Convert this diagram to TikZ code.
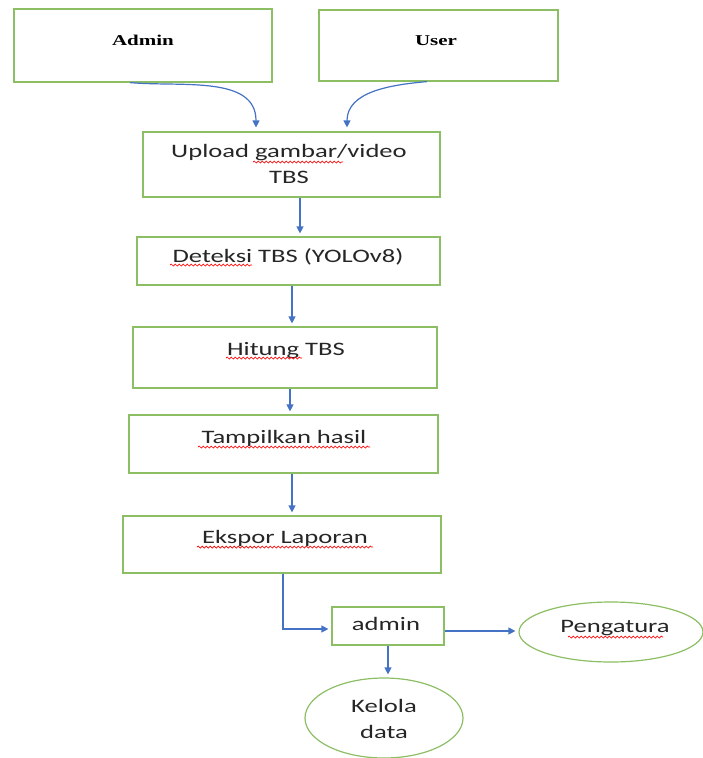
\documentclass[tikz,border=0pt]{standalone}
\usepackage{fontspec}
\setmainfont{Carlito}[FakeStretch=1.4]
\newfontfamily\headfont{Liberation Serif}[FakeStretch=1.4]
\usetikzlibrary{arrows.meta,shapes.geometric,decorations.pathmorphing}
\definecolor{boxgreen}{RGB}{140,190,100}
\definecolor{flowblue}{RGB}{68,114,196}
\begin{document}
\begin{tikzpicture}[x=1pt,y=-1pt,
  box/.style={draw=boxgreen,line width=1.2pt,inner sep=0pt},
  oval/.style={box,ellipse},
  txt/.style={anchor=base,inner sep=0pt,align=center,text=black!85,font=\fontsize{19}{26}\selectfont},
  head/.style={anchor=base,inner sep=0pt,font=\headfont\bfseries\fontsize{15}{18}\selectfont},
  arr/.style={draw=flowblue,line width=1.2pt,-{Triangle[length=7pt,width=7pt]},shorten >=3pt},
  spell/.style={red,line width=0.7pt,decorate,decoration={snake,amplitude=1pt,segment length=4pt}}]
\useasboundingbox (0,0) rectangle (703,758);
% boxes
\node[box,minimum width=258,minimum height=73] (admin) at (143,45.5) {};
\node[box,minimum width=239,minimum height=71] (user) at (438.5,45.5) {};
\node[box,minimum width=297,minimum height=65] (upload) at (291.5,164.5) {};
\node[box,minimum width=303,minimum height=48] (deteksi) at (288.5,261) {};
\node[box,minimum width=304,minimum height=61] (hitung) at (285,357.5) {};
\node[box,minimum width=309,minimum height=58] (tampil) at (283.5,444) {};
\node[box,minimum width=318,minimum height=57] (ekspor) at (282,544.5) {};
\node[box,minimum width=112,minimum height=38] (adm) at (388,626) {};
\node[oval,minimum width=184,minimum height=60] (atur) at (611,632) {};
\node[oval,minimum width=158,minimum height=80] (kelola) at (384,718) {};
% texts (two-line ones sit on their last line)
\node[head] (tadmin) at (143,45) {Admin};
\node[head] (tuser) at (436,45) {User};
\node[txt] (tupload) at (289,183) {Upload gambar/video\\TBS};
\node[txt] (tdeteksi) at (288,262) {Deteksi TBS (YOLOv8)};
\node[txt] (thitung) at (286,355) {Hitung TBS};
\node[txt] (ttampil) at (284,443) {Tampilkan hasil};
\node[txt] (tekspor) at (285,543) {Ekspor Laporan};
\node[txt] (tadm) at (386,630) {admin};
\node[txt] (tatur) at (615,632) {Pengatura};
\node[txt] (tkelola) at (384,738) {Kelola\\data};
% spell marks
\draw[spell] (253,162) -- (343,162);
\draw[spell] (170,265) -- (252,265);
\draw[spell] (226,358) -- (302,358);
\draw[spell] (198,447) -- (370,447);
\draw[spell] (197,547) -- (373,547);
\draw[spell] (568,637) -- (663,637);
% arrows
\draw[arr,shorten >=0pt] ([xshift=-13pt]admin.south) to[out=-5,in=90] ([xshift=-35.5pt,yshift=4pt]upload.north);
\draw[arr,shorten >=0pt] ([xshift=-11.5pt]user.south) to[out=185,in=90] ([xshift=55.5pt,yshift=4pt]upload.north);
\draw[arr] ([xshift=8.5pt]upload.south) -- ([xshift=8.5pt]upload.south |- deteksi.north);
\draw[arr] ([xshift=3.5pt]deteksi.south) -- ([xshift=3.5pt]deteksi.south |- hitung.north);
\draw[arr] ([xshift=5pt]hitung.south) -- ([xshift=5pt]hitung.south |- tampil.north);
\draw[arr] ([xshift=8.5pt]tampil.south) -- ([xshift=8.5pt]tampil.south |- ekspor.north);
\draw[arr] ([xshift=1pt]ekspor.south) |- ([yshift=-3pt]adm.west);
\draw[arr] ([yshift=-5pt]adm.east) -- ([yshift=-5pt]adm.east -| atur.west);
\draw[arr] (adm.south) -- (adm.south |- kelola.north);
\end{tikzpicture}
\end{document}
